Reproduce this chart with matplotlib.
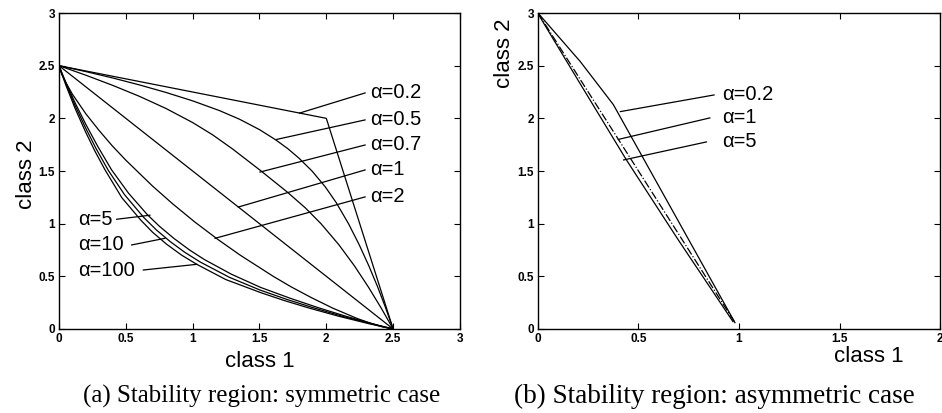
#-----------------------------------------------------------------------
#
#---- plot.py : Stability regions (symmetric / asymmetric case)
#
#-----------------------------------------------------------------------

import matplotlib
matplotlib.use('Agg')
import matplotlib.pyplot as plt

plt.rcParams['font.family'] = ['Liberation Sans', 'DejaVu Sans']


#-----------------------------------------------------------------------
#---- Data
#-----------------------------------------------------------------------

#--- (a) symmetric case
sym_x_a02 = [0, 2.0, 2.5]
sym_y_a02 = [2.5, 2.0, 0]

sym_x_a05 = [0, 0.2, 0.4, 0.6, 0.8, 1.0, 1.2, 1.35, 1.5, 1.62, 1.712,
             1.797, 1.893, 1.992, 2.074, 2.166, 2.246, 2.318, 2.384, 2.444, 2.5]
sym_y_a05 = [2.5, 2.444, 2.384, 2.318, 2.246, 2.166, 2.074, 1.992, 1.893, 1.797, 1.712,
             1.62, 1.5, 1.35, 1.2, 1.0, 0.8, 0.6, 0.4, 0.2, 0]

sym_x_a07 = [0, 0.2, 0.4, 0.6, 0.8, 1.0, 1.15, 1.3, 1.506,
             1.708, 1.843, 1.96, 2.094, 2.21, 2.314, 2.41, 2.5]
sym_y_a07 = [2.5, 2.41, 2.314, 2.21, 2.094, 1.96, 1.843, 1.708, 1.506,
             1.3, 1.15, 1.0, 0.8, 0.6, 0.4, 0.2, 0]

sym_x_a1 = [0, 2.5]
sym_y_a1 = [2.5, 0]

sym_x_a2 = [0, 0.02, 0.05, 0.1, 0.2, 0.3, 0.4, 0.5, 0.6, 0.7, 0.85, 1.016,
            1.189, 1.357, 1.48, 1.603, 1.737, 1.885, 2.045, 2.23, 2.343, 2.421, 2.5]
sym_y_a2 = [2.5, 2.421, 2.343, 2.23, 2.045, 1.885, 1.737, 1.603, 1.48, 1.357, 1.189, 1.016,
            0.85, 0.7, 0.6, 0.5, 0.4, 0.3, 0.2, 0.1, 0.05, 0.02, 0]

sym_x_a5 = [0, 0.05, 0.12, 0.2, 0.29, 0.394, 0.52, 0.66, 0.75, 0.86,
            0.977, 1.087, 1.29, 1.51, 1.734, 1.945, 2.149, 2.345, 2.5]
sym_y_a5 = [2.5, 2.345, 2.149, 1.945, 1.734, 1.51, 1.29, 1.087, 0.977, 0.86,
            0.75, 0.66, 0.52, 0.394, 0.29, 0.2, 0.12, 0.05, 0]

sym_x_a10 = [0, 0.05, 0.12, 0.2, 0.28, 0.369, 0.49, 0.635, 0.73, 0.831,
             0.939, 1.058, 1.276, 1.506, 1.707, 1.907, 2.123, 2.333, 2.5]
sym_y_a10 = [2.5, 2.333, 2.123, 1.907, 1.707, 1.506, 1.276, 1.058, 0.939, 0.831,
             0.73, 0.635, 0.49, 0.369, 0.28, 0.2, 0.12, 0.05, 0]

sym_x_a100 = [0, 0.05, 0.12, 0.2, 0.27, 0.344, 0.47, 0.614, 0.7, 0.805,
              0.919, 1.031, 1.247, 1.512, 1.686, 1.868, 2.096, 2.32, 2.5]
sym_y_a100 = [2.5, 2.32, 2.096, 1.868, 1.686, 1.512, 1.247, 1.031, 0.919, 0.805,
              0.7, 0.614, 0.47, 0.344, 0.27, 0.2, 0.12, 0.05, 0]

#--- labels on the right side of panel (a)
sym_lab_r = ['α=0.2', 'α=0.5', 'α=0.7', 'α=1', 'α=2']
sym_lab_r_y = [2.241, 1.985, 1.747, 1.51, 1.254]
sym_ptr_r_end_x = [1.80, 1.629, 1.504, 1.342, 1.168]
sym_ptr_r_end_y = [2.05, 1.800, 1.490, 1.158, 0.861]

#--- labels on the left side of panel (a)
sym_lab_l = ['α=5', 'α=10', 'α=100']
sym_lab_l_y = [1.042, 0.798, 0.56]
sym_ptr_l_start_x = [0.432, 0.544, 0.631]
sym_ptr_l_end_x = [0.68, 0.793, 1.031]
sym_ptr_l_end_y = [1.08, 0.861, 0.614]

#--- (b) asymmetric case
asy_x_a02 = [0, 0.21, 0.375, 0.98]
asy_y_a02 = [3.0, 2.54, 2.13, 0.06]

asy_x_a1 = [0, 0.98]
asy_y_a1 = [3.0, 0.06]

asy_x_a5 = [0, 0.02, 0.2, 0.44, 0.7, 0.97]
asy_y_a5 = [3.0, 2.93, 2.36, 1.605, 0.84, 0.07]

asy_lab = ['α=0.2', 'α=1', 'α=5']
asy_lab_y = [2.222, 2.004, 1.776]
asy_ptr_start_x = [0.876, 0.855, 0.838]
asy_ptr_end_x = [0.41, 0.40, 0.426]
asy_ptr_end_y = [2.064, 1.80, 1.605]

#--- axes ticks
sym_ticks = [0, 0.5, 1, 1.5, 2, 2.5, 3]
sym_ticklabels = ['0', '0.5', '1', '1.5', '2', '2.5', '3']
asy_xticks = [0, 0.5, 1, 1.5, 2]
asy_xticklabels = ['0', '0.5', '1', '1.5', '2']


#-----------------------------------------------------------------------
#---- Mise en forme des axes
#-----------------------------------------------------------------------
def styleAxes(ax, xticks, xlabels, yticks, ylabels):

    ax.set_xticks(xticks)
    ax.set_xticklabels(xlabels, fontweight='bold')
    ax.set_yticks(yticks)
    ax.set_yticklabels(ylabels, fontweight='bold')
    ax.tick_params(direction='in', top=True, right=True, length=4,
                   width=0.8, labelsize=8.5, pad=3)
    for sp in ax.spines.values():
        sp.set_linewidth(1.0)


#-----------------------------------------------------------------------
#---- Figure
#-----------------------------------------------------------------------
fig = plt.figure(figsize=(9.42, 4.13), dpi=100)
axA = fig.add_axes([0.0626, 0.2034, 0.4257, 0.7651])
axB = fig.add_axes([0.5711, 0.2034, 0.4268, 0.7651])

lw = 0.9
labFont = 14.5
axFont = 16

#--- Panel (a)
for xs, ys in [(sym_x_a02, sym_y_a02), (sym_x_a05, sym_y_a05),
               (sym_x_a07, sym_y_a07), (sym_x_a1, sym_y_a1),
               (sym_x_a2, sym_y_a2), (sym_x_a5, sym_y_a5),
               (sym_x_a10, sym_y_a10), (sym_x_a100, sym_y_a100)]:
    axA.plot(xs, ys, color='black', lw=lw)

for lab, ty, ex, ey in zip(sym_lab_r, sym_lab_r_y, sym_ptr_r_end_x, sym_ptr_r_end_y):
    axA.plot([2.29, ex], [ty, ey], color='black', lw=lw)
    axA.text(2.33, ty, lab, fontsize=labFont, ha='left', va='center')

for lab, ty, sx, ex, ey in zip(sym_lab_l, sym_lab_l_y, sym_ptr_l_start_x,
                               sym_ptr_l_end_x, sym_ptr_l_end_y):
    axA.plot([sx, ex], [ty, ey], color='black', lw=lw)
    axA.text(0.142, ty, lab, fontsize=labFont, ha='left', va='center')

axA.set_xlim(0, 3)
axA.set_ylim(0, 3)
styleAxes(axA, sym_ticks, sym_ticklabels, sym_ticks, sym_ticklabels)
axA.set_xlabel('class 1', fontsize=axFont)
axA.set_ylabel('class 2', fontsize=axFont)
axA.xaxis.set_label_coords(0.5, -0.07)
axA.yaxis.set_label_coords(-0.055, 0.49)

#--- Panel (b)
axB.plot(asy_x_a02, asy_y_a02, color='black', lw=lw)
axB.plot(asy_x_a1, asy_y_a1, color='black', lw=lw, ls='-.')
axB.plot(asy_x_a5, asy_y_a5, color='black', lw=lw)

for lab, ty, sx, ex, ey in zip(asy_lab, asy_lab_y, asy_ptr_start_x,
                               asy_ptr_end_x, asy_ptr_end_y):
    axB.plot([sx, ex], [ty, ey], color='black', lw=lw)
    axB.text(0.918, ty, lab, fontsize=labFont, ha='left', va='center')

axB.set_xlim(0, 2)
axB.set_ylim(0, 3)
styleAxes(axB, asy_xticks, asy_xticklabels, sym_ticks, sym_ticklabels)
axB.set_xlabel('class 1', fontsize=axFont)
axB.set_ylabel('class 2', fontsize=axFont)
axB.xaxis.set_label_coords(0.823, -0.055)
axB.yaxis.set_label_coords(-0.057, 0.873)

#--- Captions
serif = ['Liberation Serif', 'DejaVu Serif']
fig.text(262 / 942, 1 - 396 / 413, '(a) Stability region: symmetric case',
         family=serif, fontsize=18, ha='center', va='center')
fig.text(714 / 942, 1 - 396 / 413, '(b) Stability region: asymmetric case',
         family=serif, fontsize=19.5, ha='center', va='center')

fig.savefig('out.png', dpi=100)
